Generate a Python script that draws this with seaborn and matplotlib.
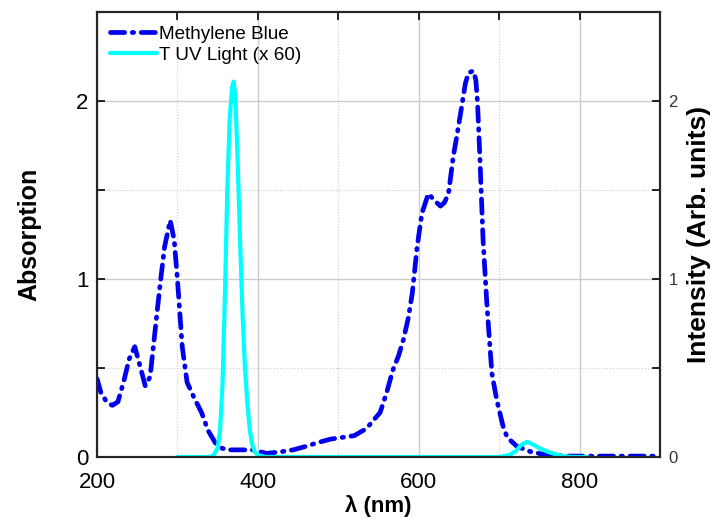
import numpy as np
import pandas as pd
import seaborn as sns
import matplotlib.pyplot as plt
from matplotlib.ticker import MultipleLocator

# Methylene Blue absorption
mb_wl = [200, 205, 212, 219, 226, 233, 240, 247, 253, 260, 266, 272, 278, 284, 291, 296,
         300, 306, 312, 320, 330, 338, 347, 355, 362, 375, 394, 411, 430, 444, 460, 474,
         490, 505, 520, 535, 552, 560, 568, 575, 581, 587, 592, 598, 604, 612, 620, 627,
         632, 637, 643, 648, 652, 658, 662, 668, 671, 673, 676, 680, 685, 691, 697, 705,
         710, 722, 739, 760, 790, 820, 860, 900]
mb_abs = [0.44, 0.36, 0.31, 0.29, 0.31, 0.42, 0.55, 0.62, 0.52, 0.40, 0.45, 0.70, 0.95, 1.18, 1.33, 1.22,
          1.00, 0.62, 0.42, 0.34, 0.25, 0.15, 0.08, 0.05, 0.04, 0.04, 0.04, 0.02, 0.03, 0.04, 0.06, 0.08,
          0.10, 0.11, 0.12, 0.16, 0.25, 0.36, 0.49, 0.57, 0.66, 0.78, 0.92, 1.18, 1.37, 1.48, 1.44, 1.41,
          1.43, 1.48, 1.69, 1.82, 1.93, 2.10, 2.16, 2.17, 2.12, 2.00, 1.69, 1.22, 0.84, 0.47, 0.32, 0.17,
          0.11, 0.06, 0.03, 0.01, 0.005, 0.005, 0.005, 0.005]

# T UV light emission (x 60)
uv_wl = [300, 340, 345, 350, 353, 356, 359, 362, 365, 368, 370, 372, 375, 378, 381, 384,
         387, 390, 393, 396, 400, 410, 700, 712, 720, 728, 735, 742, 750, 760, 770, 780, 790, 810]
uv_int = [0.0, 0.0, 0.01, 0.05, 0.15, 0.40, 0.90, 1.50, 1.90, 2.08, 2.11, 2.02, 1.65, 1.20, 0.80, 0.50,
          0.30, 0.15, 0.07, 0.03, 0.01, 0.0, 0.0, 0.01, 0.03, 0.07, 0.085, 0.07, 0.05, 0.03, 0.015, 0.005, 0.0, 0.0]

sns.set_style("white")
plt.rcParams['font.family'] = ['Liberation Sans', 'DejaVu Sans']
plt.rcParams['text.color'] = 'black'
plt.rcParams['axes.labelcolor'] = 'black'
plt.rcParams['xtick.color'] = 'black'
plt.rcParams['ytick.color'] = 'black'

fig = plt.figure(figsize=(7.11, 5.19), dpi=100)
ax = fig.add_axes([0.1364, 0.1195, 0.7919, 0.857])

sns.lineplot(x=mb_wl, y=mb_abs, ax=ax, color='#0000ee', lw=3.4,
             label='Methylene Blue')
ax.lines[-1].set_dashes((3.0, 1.6, 0.3, 1.6))
ax.lines[-1].set_dash_capstyle('round')
sns.lineplot(x=uv_wl, y=uv_int, ax=ax, color='#00ffff', lw=3,
             label='T UV Light (x 60)')

ax.set_xlim(200, 900)
ax.set_ylim(0, 2.5)
ax.xaxis.set_major_locator(MultipleLocator(200))
ax.xaxis.set_minor_locator(MultipleLocator(100))
ax.yaxis.set_major_locator(MultipleLocator(1))
ax.yaxis.set_minor_locator(MultipleLocator(0.5))
ax.grid(which='major', color='#cccccc', lw=1, ls='-')
ax.grid(which='minor', color='#cccccc', lw=0.8, ls=':')
ax.set_axisbelow(True)
ax.tick_params(which='both', direction='in', top=True, length=6, width=1.2,
               labelsize=16)
ax.tick_params(axis='x', pad=11)
ax.tick_params(axis='y', pad=6)
for s in ax.spines.values():
    s.set_color('black')
    s.set_linewidth(1.5)

ax.set_xlabel('λ (nm)', fontsize=16, fontweight='bold', labelpad=1)
ax.set_ylabel('Absorption', fontsize=18, fontweight='bold', labelpad=25)

ax2 = ax.twinx()
ax2.set_ylim(0, 2.5)
ax2.yaxis.set_major_locator(MultipleLocator(1))
ax2.yaxis.set_minor_locator(MultipleLocator(0.5))
ax2.tick_params(which='both', direction='in', length=6, width=1.2,
                labelsize=12, labelcolor='#333333', pad=6)
ax2.grid(False)
for s in ax2.spines.values():
    s.set_linewidth(1.5)
ax2.set_ylabel('Intensity (Arb. units)', fontsize=19, fontweight='bold', labelpad=7)

ax.legend(loc='upper left', bbox_to_anchor=(0.023, 0.97), frameon=False,
          fontsize=13.6, handlelength=2.5, handletextpad=0.1, borderaxespad=0,
          borderpad=0, labelspacing=0.2)

fig.savefig('out.png', dpi=100)
